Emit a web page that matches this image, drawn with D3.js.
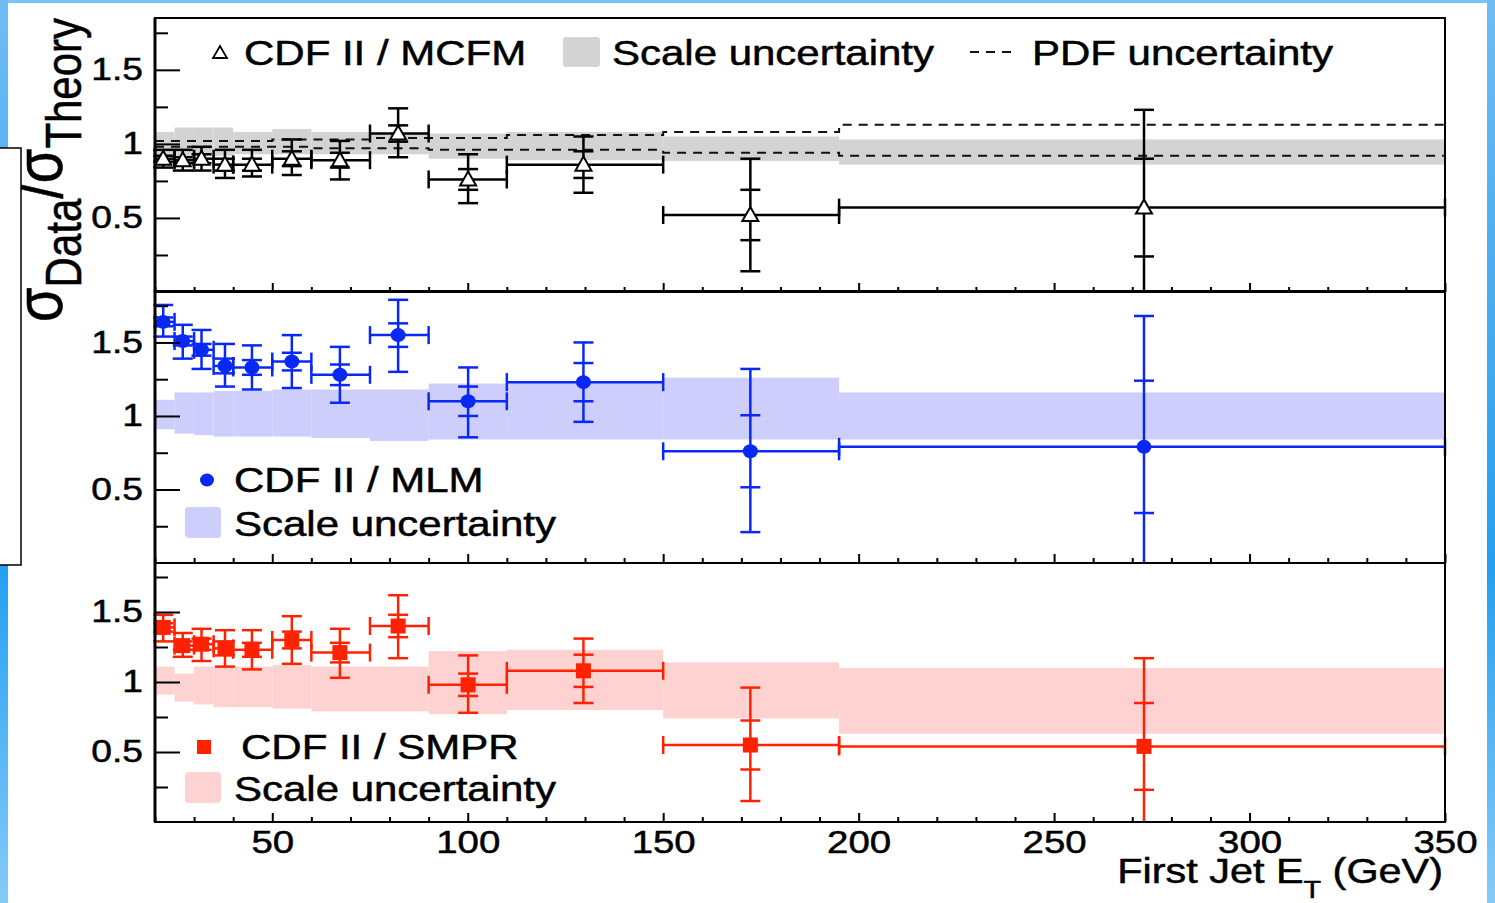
<!DOCTYPE html>
<html><head><meta charset="utf-8">
<script src="https://cdn.jsdelivr.net/npm/d3@7"></script>
<style>html,body{margin:0;padding:0;background:#fff;overflow:hidden}</style>
</head><body>
<svg id="c" width="1495" height="903" xmlns="http://www.w3.org/2000/svg"></svg>
<script>
// ---------------- DATA ----------------
const binEdges = [20, 25, 30, 35, 40, 50, 60, 75, 90, 110, 150, 195, 350];
const xCenters = [22.1, 27.1, 31.9, 37.9, 44.8, 55.0, 67.3, 82.2, 100.1, 129.6, 172.3, 273.0];

// CDF II / MCFM
const mcfmVal  = [0.90, 0.89, 0.90, 0.86, 0.86, 0.90, 0.89, 1.07, 0.76, 0.86, 0.52, 0.57];
const mcfmHi   = [0.96, 0.96, 0.98, 0.96, 0.96, 1.03, 1.02, 1.24, 0.93, 1.05, 0.90, 1.23];
const mcfmLo   = [0.84, 0.82, 0.82, 0.77, 0.78, 0.79, 0.76, 0.91, 0.60, 0.67, 0.14, -0.10];
const mcfmStat = [0.02, 0.02, 0.03, 0.04, 0.04, 0.05, 0.05, 0.055, 0.07, 0.09, 0.17, 0.33];
const mcfmScaleLo = [0.92, 0.92, 0.92, 0.92, 0.93, 0.93, 0.93, 0.93, 0.90, 0.89, 0.885, 0.86];
const mcfmScaleHi = [1.08, 1.11, 1.11, 1.11, 1.08, 1.10, 1.08, 1.07, 1.07, 1.08, 1.05, 1.03];
const pdfLo = [0.98, 0.98, 0.98, 0.98, 0.98, 0.98, 0.97, 0.97, 0.96, 0.96, 0.94, 0.92];
const pdfHi = [1.02, 1.02, 1.02, 1.02, 1.02, 1.03, 1.03, 1.04, 1.04, 1.06, 1.08, 1.13];

// CDF II / MLM
const mlmVal  = [1.64, 1.51, 1.45, 1.34, 1.33, 1.37, 1.28, 1.55, 1.10, 1.23, 0.76, 0.79];
const mlmHi   = [1.755, 1.62, 1.585, 1.49, 1.48, 1.55, 1.47, 1.79, 1.33, 1.50, 1.32, 1.68];
const mlmLo   = [1.54, 1.39, 1.32, 1.20, 1.18, 1.19, 1.09, 1.30, 0.855, 0.96, 0.21, -0.10];
const mlmStat = [0.03, 0.03, 0.04, 0.05, 0.05, 0.06, 0.07, 0.08, 0.10, 0.13, 0.245, 0.45];
const mlmScaleLo = [0.91, 0.88, 0.87, 0.86, 0.86, 0.86, 0.85, 0.83, 0.84, 0.84, 0.84, 0.84];
const mlmScaleHi = [1.11, 1.16, 1.16, 1.17, 1.17, 1.18, 1.18, 1.18, 1.22, 1.23, 1.26, 1.16];

// CDF II / SMPR
const smprVal  = [1.39, 1.26, 1.27, 1.24, 1.23, 1.30, 1.21, 1.40, 0.98, 1.08, 0.55, 0.54];
const smprHi   = [1.48, 1.35, 1.38, 1.37, 1.37, 1.47, 1.38, 1.62, 1.19, 1.31, 0.96, 1.17];
const smprLo   = [1.29, 1.18, 1.15, 1.11, 1.09, 1.13, 1.03, 1.17, 0.78, 0.85, 0.15, -0.10];
const smprStat = [0.03, 0.03, 0.04, 0.05, 0.05, 0.06, 0.07, 0.08, 0.08, 0.115, 0.175, 0.31];
const smprScaleLo = [0.91, 0.86, 0.84, 0.82, 0.82, 0.81, 0.79, 0.79, 0.77, 0.80, 0.74, 0.63];
const smprScaleHi = [1.11, 1.06, 1.11, 1.11, 1.11, 1.12, 1.11, 1.11, 1.22, 1.23, 1.14, 1.10];

const xMajorTicks = [50, 100, 150, 200, 250, 300, 350];
const xMinorTicks = [20, 30, 40, 60, 70, 80, 90, 110, 120, 130, 140, 160, 170, 180, 190, 210, 220, 230, 240, 260, 270, 280, 290, 310, 320, 330, 340];
const yMajorTicks = [0.5, 1, 1.5];
const yMinorTicks = [0.25, 0.75, 1.25, 1.75];
const yDomain = [0, 1.85];
const xDomain = [20, 350];

const legend1 = ["CDF II / MCFM", "Scale uncertainty", "PDF uncertainty"];
const legend2 = ["CDF II / MLM", "Scale uncertainty"];
const legend3 = ["CDF II / SMPR", "Scale uncertainty"];
const xTitle = ["First Jet E", "T", " (GeV)"];

// ---------------- DRAW ----------------
const FONT = "'Liberation Sans', Arial, Helvetica, sans-serif";
const SX = 1.2;
const TXT_STROKE = 0.5;
const svg = d3.select("#c").style("font-family", FONT);

const defs = svg.append("defs");
const grad = defs.append("linearGradient").attr("id", "edge").attr("x1", 0).attr("y1", 0).attr("x2", 0).attr("y2", 1);
[[0, "#70bdf5"], [0.16, "#5cb4f1"], [0.63, "#22a0f2"], [1, "#86cbf8"]].forEach(s =>
  grad.append("stop").attr("offset", s[0]).attr("stop-color", s[1]));
svg.append("rect").attr("x", 0).attr("y", 0).attr("width", 1495).attr("height", 903).attr("fill", "#fff");

const x = d3.scaleLinear().domain(xDomain).range([155, 1445]);

const panels = [
  {top: 18, bottom: 292, val: mcfmVal, hi: mcfmHi, lo: mcfmLo, stat: mcfmStat, bLo: mcfmScaleLo, bHi: mcfmScaleHi, color: "#000000", band: "#d3d3d3", marker: "tri"},
  {top: 291, bottom: 563, val: mlmVal, hi: mlmHi, lo: mlmLo, stat: mlmStat, bLo: mlmScaleLo, bHi: mlmScaleHi, color: "#0a28f5", band: "#cdcefb", marker: "circle"},
  {top: 563, bottom: 822, val: smprVal, hi: smprHi, lo: smprLo, stat: smprStat, bLo: smprScaleLo, bHi: smprScaleHi, color: "#ff2200", band: "#ffd2d2", marker: "square"}
];

function stretchedText(g, px, py, str, size, anchor) {
  return g.append("text").attr("transform", `translate(${px},${py}) scale(${SX},1)`)
    .attr("font-size", size).attr("text-anchor", anchor || "start").attr("fill", "#000")
    .attr("stroke", "#000").attr("stroke-width", TXT_STROKE).text(str);
}

panels.forEach((p, pi) => {
  const y = d3.scaleLinear().domain(yDomain).range([p.bottom, p.top]);
  const g = svg.append("g");
  const clipId = "clip" + pi;
  defs.append("clipPath").attr("id", clipId).append("rect")
    .attr("x", 140).attr("y", p.top).attr("width", 1320).attr("height", p.bottom - p.top);
  const gc = g.append("g").attr("clip-path", `url(#${clipId})`);
  const idx = d3.range(p.val.length);

  // scale uncertainty band
  gc.selectAll("rect.band").data(idx).join("rect").attr("class", "band")
    .attr("x", i => x(binEdges[i])).attr("width", i => x(binEdges[i + 1]) - x(binEdges[i]))
    .attr("y", i => y(p.bHi[i])).attr("height", i => y(p.bLo[i]) - y(p.bHi[i]))
    .attr("fill", p.band);

  // PDF uncertainty (panel 1)
  if (pi === 0) {
    const step = arr => d3.line().x(d => x(d[0])).y(d => y(d[1]))(idx.flatMap(i => [[binEdges[i], arr[i]], [binEdges[i + 1], arr[i]]]));
    [pdfHi, pdfLo].forEach(arr => gc.append("path").attr("d", step(arr))
      .attr("fill", "none").attr("stroke", "#111").attr("stroke-width", 2).attr("stroke-dasharray", "9,7"));
  }

  // error bars
  const eb = gc.append("g").attr("stroke", p.color).attr("stroke-width", 2.5).attr("fill", "none");
  idx.forEach(i => {
    const cx = x(xCenters[i]), cy = y(p.val[i]);
    const x0 = x(binEdges[i]), x1 = x(binEdges[i + 1]);
    eb.append("line").attr("x1", x0).attr("x2", x1).attr("y1", cy).attr("y2", cy);
    [x0, x1].forEach(xe => eb.append("line").attr("x1", xe).attr("x2", xe).attr("y1", cy - 9).attr("y2", cy + 9));
    eb.append("line").attr("x1", cx).attr("x2", cx).attr("y1", y(p.hi[i])).attr("y2", y(p.lo[i]));
    [p.hi[i], p.lo[i], p.val[i] + p.stat[i], p.val[i] - p.stat[i]].forEach(v =>
      eb.append("line").attr("x1", cx - 10).attr("x2", cx + 10).attr("y1", y(v)).attr("y2", y(v)));
  });

  // markers
  const mk = gc.append("g");
  idx.forEach(i => {
    const cx = x(xCenters[i]), cy = y(p.val[i]);
    if (p.marker === "tri") {
      mk.append("path").attr("d", `M${cx - 8},${cy + 6}L${cx + 8},${cy + 6}L${cx},${cy - 8}Z`)
        .attr("fill", "#fff").attr("stroke", "#000").attr("stroke-width", 2).attr("stroke-linejoin", "miter");
    } else if (p.marker === "circle") {
      mk.append("ellipse").attr("cx", cx).attr("cy", cy).attr("rx", 7.5).attr("ry", 7).attr("fill", p.color);
    } else {
      mk.append("rect").attr("x", cx - 7.5).attr("y", cy - 7.5).attr("width", 15).attr("height", 15).attr("fill", p.color);
    }
  });

  // axes (ticks inward)
  const yAx = g.append("g").attr("transform", "translate(155,0)");
  yAx.append("g").call(d3.axisRight(y).tickValues(yMajorTicks).tickSize(25).tickFormat(""));
  yAx.append("g").call(d3.axisRight(y).tickValues(yMinorTicks).tickSize(13).tickFormat(""));
  const yLab = yAx.append("g").call(d3.axisLeft(y).tickValues(yMajorTicks).tickSize(0).tickPadding(10).tickFormat(d => String(d)));
  yLab.selectAll("text").attr("font-size", 31).attr("font-family", FONT).attr("fill", "#000")
    .attr("stroke", "#000").attr("stroke-width", TXT_STROKE).attr("transform", `scale(${SX},1)`);

  const xAx = g.append("g").attr("transform", `translate(0,${p.bottom})`);
  xAx.append("g").call(d3.axisTop(x).tickValues(xMajorTicks).tickSize(9).tickFormat(""));
  xAx.append("g").call(d3.axisTop(x).tickValues(xMinorTicks).tickSize(5).tickFormat(""));
  if (pi === 2) {
    const xl = xAx.append("g").call(d3.axisBottom(x).tickValues(xMajorTicks).tickSize(0).tickPadding(8).tickFormat(d => String(d)));
    xl.selectAll("text").attr("font-size", 32).attr("font-family", FONT).attr("fill", "#000")
      .attr("stroke", "#000").attr("stroke-width", TXT_STROKE).attr("transform", `scale(${SX},1)`);
  }
  g.selectAll(".domain").remove();
  g.selectAll(".tick line").attr("stroke", "#000").attr("stroke-width", 2);

  // frame
  g.append("rect").attr("x", 155).attr("y", p.top).attr("width", 1290).attr("height", p.bottom - p.top)
    .attr("fill", "none").attr("stroke", "#000").attr("stroke-width", 2);
  g.append("line").attr("x1", 155).attr("x2", 155).attr("y1", p.top).attr("y2", p.bottom)
    .attr("stroke", "#000").attr("stroke-width", 3);
});

// ---------------- LEGENDS ----------------
const lg = svg.append("g");
lg.append("path").attr("d", "M213,58L227,58L220,46Z").attr("fill", "#fff").attr("stroke", "#000").attr("stroke-width", 1.8);
stretchedText(lg, 244, 65, legend1[0], 35);
lg.append("rect").attr("x", 563).attr("y", 37).attr("width", 37).attr("height", 30).attr("rx", 3).attr("fill", "#d3d3d3");
stretchedText(lg, 612, 65, legend1[1], 35);
lg.append("line").attr("x1", 970).attr("x2", 1018).attr("y1", 52).attr("y2", 52)
  .attr("stroke", "#111").attr("stroke-width", 2).attr("stroke-dasharray", "9,7");
stretchedText(lg, 1032, 65, legend1[2], 35);

lg.append("ellipse").attr("cx", 207).attr("cy", 480).attr("rx", 7).attr("ry", 6.5).attr("fill", panels[1].color);
stretchedText(lg, 234, 492, legend2[0], 35);
lg.append("rect").attr("x", 185).attr("y", 507).attr("width", 36).attr("height", 31).attr("rx", 4).attr("fill", panels[1].band);
stretchedText(lg, 234, 536, legend2[1], 35);

lg.append("rect").attr("x", 197).attr("y", 740).attr("width", 14).attr("height", 14).attr("fill", panels[2].color);
stretchedText(lg, 241, 759, legend3[0], 35);
lg.append("rect").attr("x", 185).attr("y", 772).attr("width", 36).attr("height", 31).attr("rx", 4).attr("fill", panels[2].band);
stretchedText(lg, 234, 801, legend3[1], 35);

// ---------------- AXIS TITLES ----------------
const xt = svg.append("text").attr("transform", `translate(1443,883) scale(${SX},1)`)
  .attr("text-anchor", "end").attr("font-size", 34.5).attr("fill", "#000")
  .attr("stroke", "#000").attr("stroke-width", TXT_STROKE);
xt.append("tspan").text(xTitle[0]);
xt.append("tspan").attr("font-size", 24).attr("dy", 15).text(xTitle[1]);
xt.append("tspan").attr("font-size", 34.5).attr("dy", -15).text(xTitle[2]);

const yt = svg.append("text").attr("transform", `translate(62,322) scale(${SX},1) rotate(-90)`)
  .attr("text-anchor", "start").attr("font-size", 56).attr("fill", "#000")
  .attr("stroke", "#000").attr("stroke-width", TXT_STROKE);
yt.append("tspan").text("σ");
yt.append("tspan").attr("font-size", 42).attr("dy", 16).text("Data");
yt.append("tspan").attr("font-size", 56).attr("dy", -16).text("/σ");
yt.append("tspan").attr("font-size", 42).attr("dy", 16).text("Theory");

// ---------------- DECORATIVE EDGES ----------------
svg.append("rect").attr("x", 0).attr("y", 0).attr("width", 1495).attr("height", 3).attr("fill", "#7cc4f8");
svg.append("rect").attr("x", 0).attr("y", 0).attr("width", 8).attr("height", 903).attr("fill", "url(#edge)");
svg.append("rect").attr("x", 1487).attr("y", 0).attr("width", 8).attr("height", 903).attr("fill", "url(#edge)");
svg.append("rect").attr("x", -2).attr("y", 148).attr("width", 23).attr("height", 417)
  .attr("fill", "#fff").attr("stroke", "#000").attr("stroke-width", 1.5);
</script>
</body></html>
